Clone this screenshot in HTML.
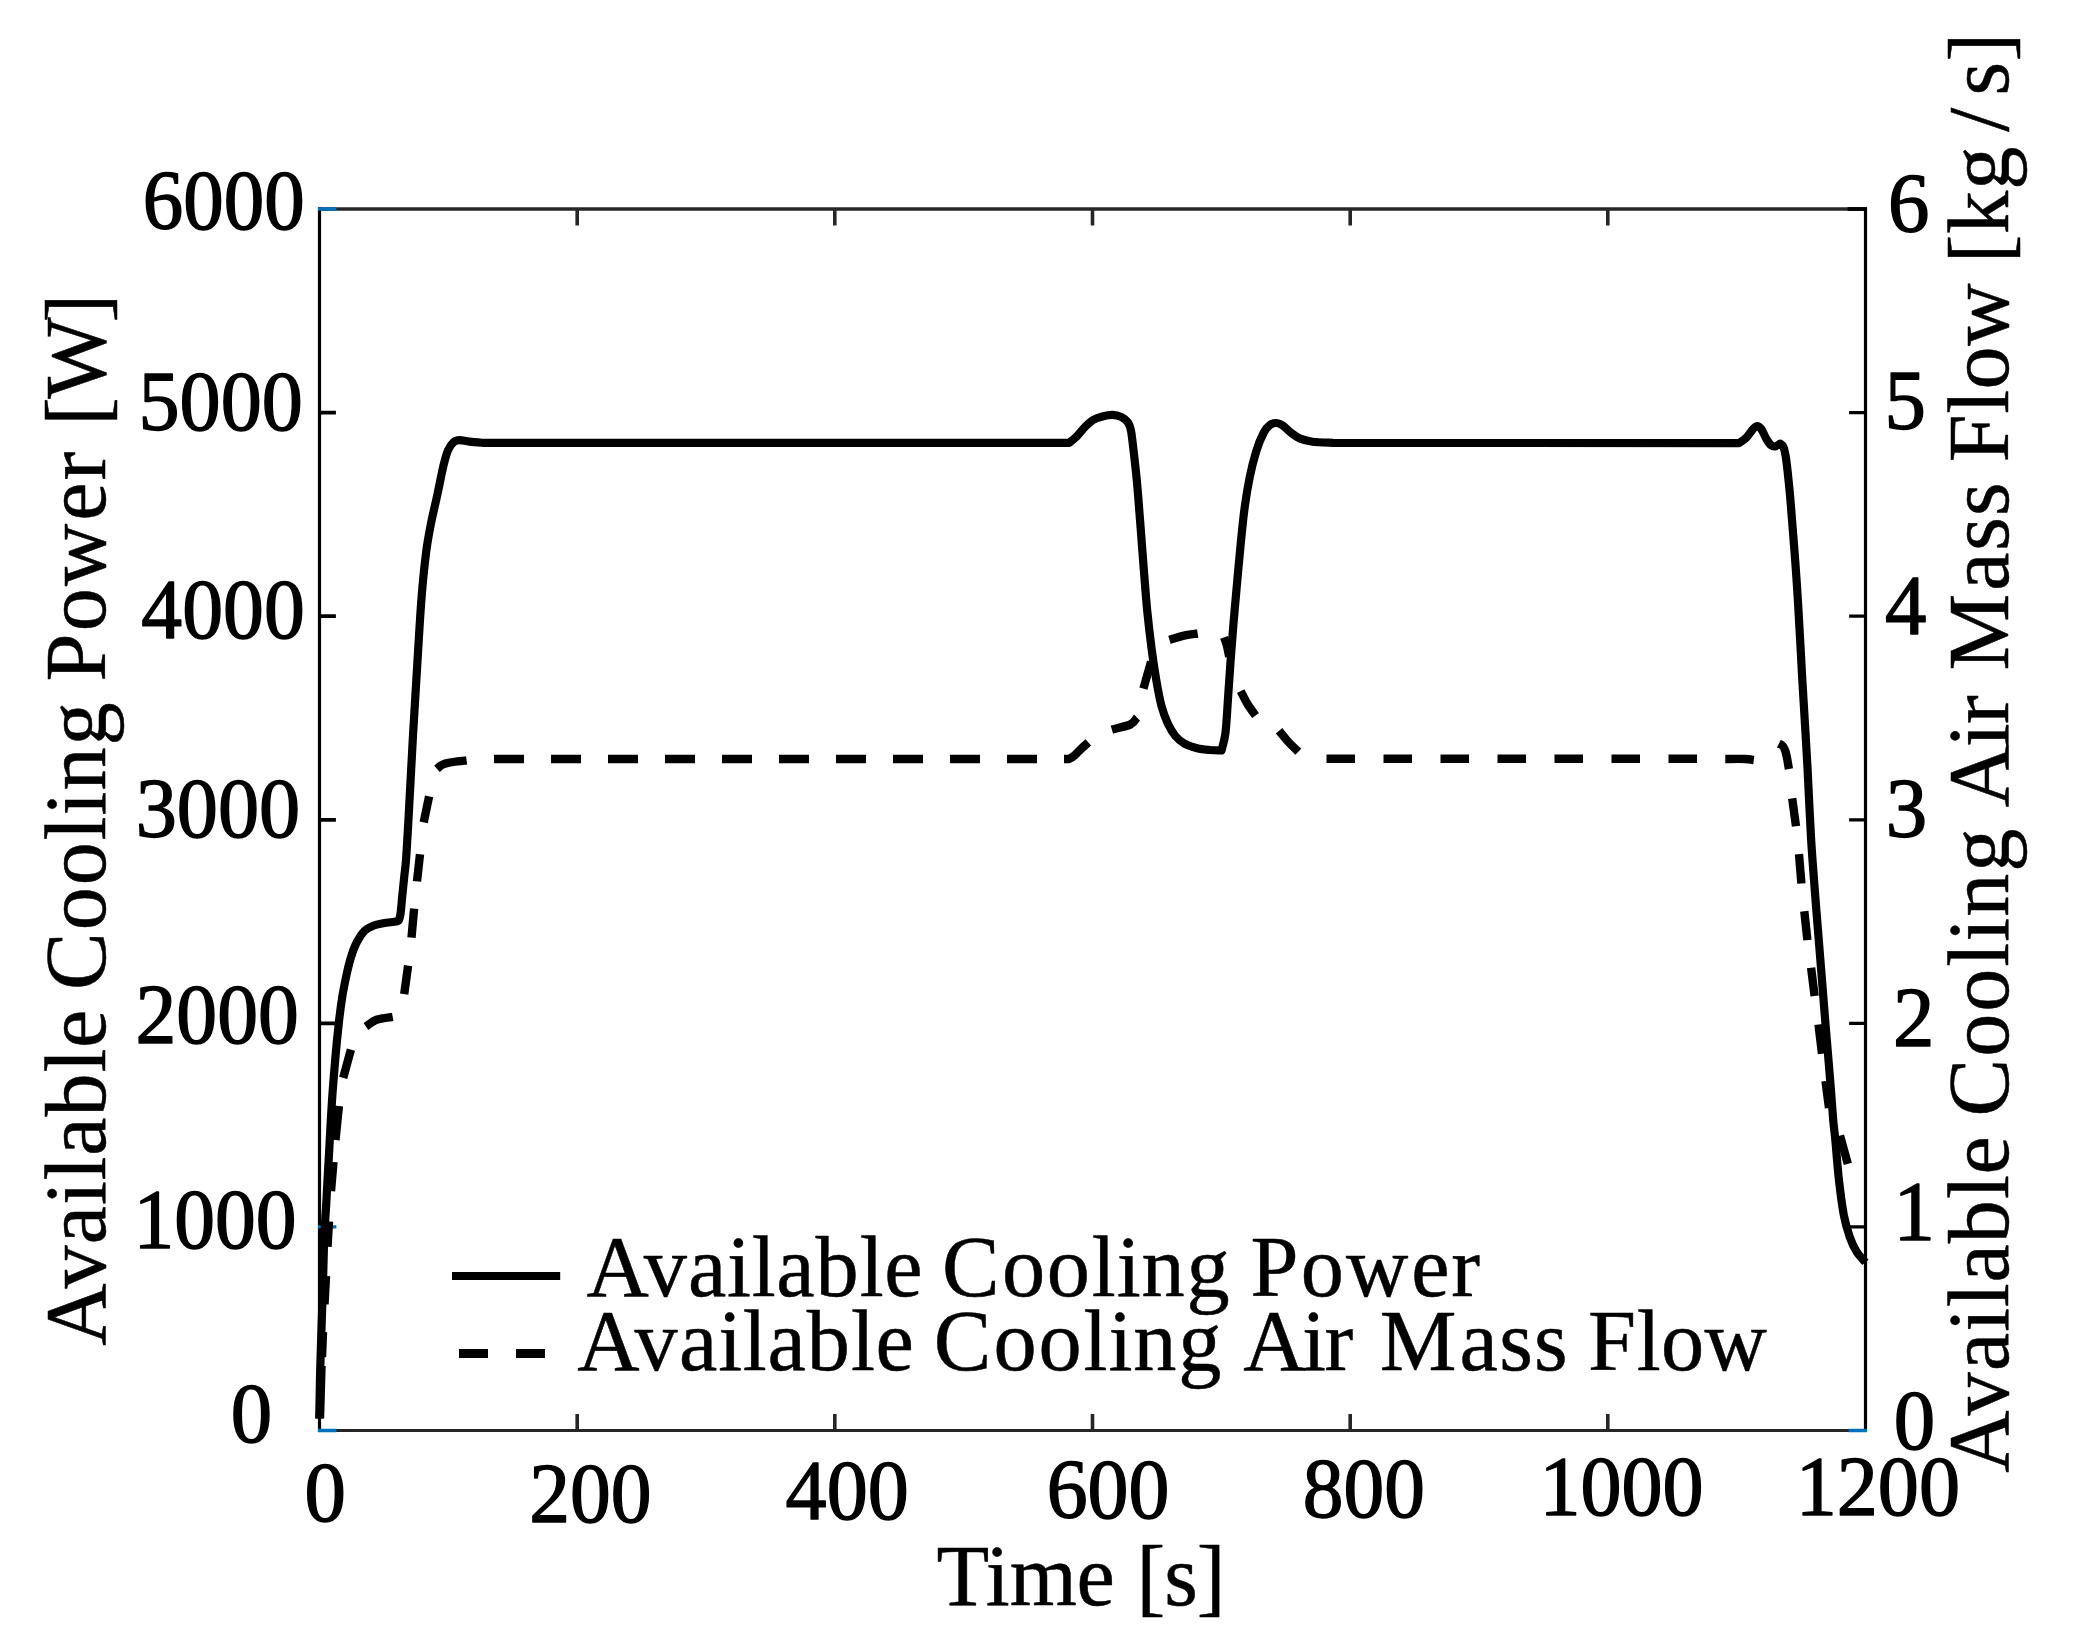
<!DOCTYPE html>
<html lang="en"><head><meta charset="utf-8"><title>Available Cooling Power and Air Mass Flow</title>
<style>html,body{margin:0;padding:0;background:#fff}svg{display:block}</style></head>
<body>
<svg width="2082" height="1640" viewBox="0 0 2082 1640" font-family='"Liberation Serif", "DejaVu Serif", serif' font-size="100" fill="#000">
<rect width="2082" height="1640" fill="#fff"/>
<g fill="none" stroke-linecap="butt">
<path d="M318.0 209.0H1867.0" stroke="#262626" stroke-width="3.6"/>
<path d="M318.0 1430.5H1867.0" stroke="#262626" stroke-width="3.2"/>
<path d="M319.5 207.2V1432.1" stroke="#000" stroke-width="3.2"/>
<path d="M1865.5 207.2V1432.1" stroke="#000" stroke-width="3.2"/>
<path d="M577.2 1430.5v-16.4M577.2 209.0v16.4M834.8 1430.5v-16.4M834.8 209.0v16.4M1092.5 1430.5v-16.4M1092.5 209.0v16.4M1350.2 1430.5v-16.4M1350.2 209.0v16.4M1607.8 1430.5v-16.4M1607.8 209.0v16.4" stroke="#262626" stroke-width="3.6"/>
<path d="M319.5 1023.3h16.4M319.5 819.8h16.4M319.5 616.2h16.4M319.5 412.6h16.4" stroke="#000" stroke-width="3.8"/>
<path d="M1865.5 1226.9h-16.4M1865.5 1023.3h-16.4M1865.5 819.8h-16.4M1865.5 616.2h-16.4M1865.5 412.6h-16.4" stroke="#000" stroke-width="3.2"/>
<path d="M1865.5 209.0h-17.9" stroke="#000" stroke-width="3.8"/>
<path d="M318.0 209.0h18.4M318.0 1226.9h18.4M318.0 1430.5h18.4M1867.0 1430.5h-18.4" stroke="#0072bd" stroke-width="3.4"/>
</g>
<path d="M319.2 1418.5C319.4 1411.0 319.8 1387.7 320.1 1373.7C320.5 1359.7 320.8 1349.2 321.3 1334.6C321.8 1320.0 322.4 1302.2 322.9 1285.9C323.4 1269.7 323.7 1250.1 324.2 1237.1C324.7 1224.1 325.4 1217.6 326.0 1207.8C326.6 1198.0 327.0 1189.0 327.6 1178.5C328.2 1168.0 328.8 1158.2 329.5 1145.0C330.2 1131.8 331.1 1114.0 332.1 1099.2C333.1 1084.4 334.4 1069.2 335.5 1056.4C336.6 1043.6 337.8 1032.2 338.9 1022.3C340.0 1012.3 341.0 1004.7 342.3 996.7C343.6 988.7 345.2 981.0 346.6 974.5C348.0 968.0 349.2 962.8 350.9 957.4C352.6 952.0 354.6 946.4 356.9 942.0C359.2 937.6 361.8 933.6 364.5 930.9C367.2 928.2 370.0 927.1 373.1 925.8C376.2 924.5 379.8 923.9 383.3 923.2C386.9 922.5 391.8 922.2 394.4 921.8C397.0 921.4 398.0 920.8 398.7 920.6C399.0 919.6 399.8 918.5 400.4 914.7C401.0 910.9 401.5 903.9 402.1 897.6C402.7 891.3 403.6 883.4 404.2 877.1C404.8 870.8 405.3 869.4 406.0 860.0C406.7 850.6 407.2 841.5 408.4 820.7C409.6 799.9 411.5 762.3 413.0 735.4C414.5 708.5 416.2 682.0 417.6 659.1C419.0 636.2 420.1 616.0 421.5 598.2C422.9 580.4 424.5 565.1 426.1 552.4C427.7 539.7 429.4 531.6 431.3 522.0C433.2 512.4 435.4 503.9 437.4 494.5C439.4 485.1 441.7 472.9 443.5 465.5C445.3 458.1 446.3 454.2 448.0 450.3C449.7 446.4 451.6 444.0 453.5 442.3C455.4 440.6 457.0 440.3 459.6 440.2C462.2 440.1 465.3 441.2 469.4 441.6C473.5 442.1 481.6 442.7 484.0 442.9L1069.1 442.9C1070.4 441.8 1074.0 439.1 1076.8 436.3C1079.6 433.5 1083.0 428.9 1085.8 426.1C1088.6 423.3 1090.7 421.3 1093.5 419.7C1096.3 418.1 1099.2 417.2 1102.4 416.4C1105.6 415.6 1109.5 414.7 1112.7 414.8C1115.9 414.9 1119.0 415.9 1121.6 417.1C1124.1 418.4 1126.4 420.0 1128.0 422.3C1129.6 424.6 1130.1 426.3 1131.1 431.2C1132.0 436.1 1132.7 443.2 1133.7 451.7C1134.7 460.2 1135.9 470.4 1137.0 482.4C1138.1 494.3 1139.2 509.7 1140.3 523.4C1141.4 537.1 1142.2 549.9 1143.4 564.4C1144.6 578.9 1145.8 596.4 1147.2 610.5C1148.6 624.6 1150.1 637.4 1151.6 648.9C1153.1 660.4 1154.6 670.2 1156.2 679.6C1157.8 689.0 1159.4 697.9 1161.3 705.2C1163.2 712.5 1165.3 718.1 1167.7 723.2C1170.1 728.3 1172.6 732.6 1175.4 736.0C1178.2 739.4 1180.8 741.6 1184.4 743.6C1188.0 745.6 1192.9 747.1 1197.2 748.2C1201.5 749.3 1206.0 749.6 1210.0 750.0C1214.0 750.4 1219.6 750.4 1221.5 750.5C1222.2 747.6 1224.3 741.8 1225.4 733.4C1226.5 725.0 1227.1 712.0 1227.9 700.1C1228.8 688.2 1229.6 674.5 1230.5 661.7C1231.4 648.9 1232.4 636.1 1233.5 623.3C1234.6 610.5 1235.7 598.1 1236.9 584.9C1238.1 571.7 1239.4 556.7 1240.7 543.9C1242.0 531.1 1243.1 519.1 1244.6 508.0C1246.1 496.9 1247.8 486.7 1249.7 477.3C1251.6 467.9 1253.8 459.2 1256.1 451.7C1258.4 444.2 1261.4 437.0 1263.8 432.5C1266.2 428.0 1268.1 426.4 1270.2 424.8C1272.3 423.2 1274.5 422.9 1276.6 423.0C1278.7 423.1 1280.7 424.0 1283.0 425.6C1285.3 427.2 1287.9 430.4 1290.7 432.5C1293.5 434.6 1296.0 436.9 1299.6 438.4C1303.2 439.9 1306.9 440.9 1312.4 441.7C1318.0 442.4 1329.5 442.7 1332.9 442.9L1739.0 443.1C1740.2 442.2 1744.0 440.0 1746.4 437.6C1748.8 435.2 1751.5 430.7 1753.3 428.8C1755.1 426.9 1756.0 426.0 1757.4 426.1C1758.8 426.2 1760.0 427.2 1761.5 429.4C1763.0 431.5 1764.8 436.4 1766.4 439.0C1768.0 441.6 1769.6 444.1 1771.1 445.3C1772.6 446.5 1773.7 446.7 1775.2 446.4C1776.7 446.1 1779.4 444.1 1780.2 443.6C1780.8 444.2 1782.5 444.5 1783.5 447.2C1784.5 449.9 1785.2 452.5 1786.2 459.6C1787.2 466.7 1788.3 477.4 1789.5 489.7C1790.7 502.0 1791.9 519.0 1793.1 533.6C1794.2 548.2 1795.4 562.0 1796.4 577.5C1797.5 593.0 1798.5 610.4 1799.4 626.9C1800.4 643.4 1801.2 660.3 1802.1 676.3C1803.0 692.3 1804.0 707.3 1804.9 722.9C1805.8 738.5 1806.6 750.2 1807.6 769.6C1808.6 789.0 1809.9 819.3 1811.1 839.0C1812.3 858.7 1813.4 871.5 1814.6 887.8C1815.8 904.1 1817.2 920.3 1818.5 936.6C1819.8 952.9 1821.1 969.1 1822.4 985.4C1823.7 1001.6 1825.0 1018.8 1826.3 1034.1C1827.5 1049.4 1828.8 1062.8 1829.9 1077.1C1831.1 1091.4 1832.3 1109.9 1833.2 1120.0C1834.1 1130.1 1834.1 1127.5 1835.1 1137.6C1836.1 1147.7 1837.5 1167.5 1839.0 1180.5C1840.5 1193.5 1842.1 1206.2 1843.9 1215.6C1845.7 1225.0 1847.7 1231.1 1849.8 1237.1C1851.9 1243.1 1854.0 1247.5 1856.6 1251.7C1859.2 1255.9 1863.9 1260.6 1865.4 1262.4" fill="none" stroke="#000" stroke-width="8.2" stroke-linejoin="round" stroke-linecap="butt"/>
<path d="M320.0 1418.5L321.5 1366.0M322.0 1357.0L323.0 1332.0M324.5 1304.4L326.0 1276.0M327.5 1246.8L329.0 1221.5M331.0 1191.2L333.5 1162.0M335.5 1140.0L338.9 1106.0M343.2 1077.8L350.9 1049.6M365.9 1026.6C367.7 1025.4 372.0 1021.3 376.5 1019.7C381.0 1018.1 390.0 1017.3 392.7 1016.8M404.2 994.1L408.1 965.6M411.5 937.7L414.1 908.7M417.0 881.4L420.0 854.3M423.7 822.3L429.1 796.3M437.0 768.9C437.7 768.3 439.2 766.5 441.0 765.5C442.8 764.5 443.7 763.6 448.0 762.8C452.3 761.9 463.5 760.8 466.6 760.4M494.0 759.0L524.0 759.0M551.0 759.0L581.0 759.0M608.0 759.0L638.0 759.0M665.0 759.0L695.0 759.0M722.0 759.0L752.0 759.0M779.0 759.0L809.0 759.0M836.0 759.0L866.0 759.0M893.0 759.0L923.0 759.0M950.0 759.0L980.0 759.0M1007.0 759.0L1037.0 759.0M1064.0 759.0C1064.9 759.0 1067.8 759.3 1069.5 758.7C1071.2 758.1 1072.6 757.1 1074.5 755.5C1076.4 753.9 1078.7 751.2 1081.0 749.0C1083.3 746.8 1087.1 743.5 1088.3 742.4M1111.9 729.6C1115.0 728.7 1126.4 726.4 1130.6 724.4C1134.8 722.4 1135.9 718.6 1137.0 717.5M1143.4 688.6L1151.1 661.7M1169.5 639.9C1171.8 639.2 1178.3 636.9 1183.0 635.8C1187.7 634.7 1195.2 633.9 1197.7 633.5M1224.1 637.4C1224.6 638.8 1226.2 642.8 1227.0 646.0C1227.8 649.2 1228.8 654.8 1229.2 656.6M1240.7 691.1C1241.8 693.2 1245.0 699.9 1247.5 704.0C1250.0 708.1 1254.2 713.6 1255.6 715.5M1279.1 730.8C1280.6 732.6 1284.8 738.0 1288.0 741.5C1291.2 745.0 1296.6 750.1 1298.3 751.8M1326.5 758.8L1355.0 758.8M1383.5 758.8L1412.0 758.8M1440.5 758.8L1469.0 758.8M1497.5 758.8L1526.0 758.8M1554.5 758.8L1583.0 758.8M1611.5 758.8L1640.0 758.8M1668.5 758.8L1697.0 758.8M1725.3 759.0C1728.6 759.0 1740.2 758.8 1745.0 759.0C1749.8 759.2 1752.3 759.8 1753.8 760.0M1778.8 743.8C1779.4 744.1 1781.4 744.5 1782.5 745.6C1783.6 746.7 1784.4 748.3 1785.2 750.5C1786.0 752.7 1786.6 755.9 1787.2 759.0C1787.8 762.1 1788.6 767.3 1788.9 769.0M1792.2 798.4L1796.0 826.3M1799.0 854.2L1801.4 883.5M1804.3 911.2L1807.4 940.1M1811.1 967.8L1814.6 996.1M1818.5 1024.4L1822.0 1053.7M1825.5 1081.0L1829.0 1108.0M1840.0 1135.6L1847.8 1163.9" fill="none" stroke="#000" stroke-width="8.4" stroke-linejoin="round" stroke-linecap="butt"/>
<path d="M452 1276H560.2" stroke="#000" stroke-width="8" fill="none"/>
<path d="M459 1353.5h29M516 1353.5h29" stroke="#000" stroke-width="8.8" fill="none"/>
<g stroke="#000" stroke-width="1.4" stroke-linejoin="round">
<text x="142.77" y="229.37" font-size="84.6" textLength="161.96" lengthAdjust="spacingAndGlyphs">6000</text>
<text x="138.45" y="429.92" font-size="84.6" textLength="164.42" lengthAdjust="spacingAndGlyphs">5000</text>
<text x="141.32" y="637.92" font-size="84.6" textLength="163.43" lengthAdjust="spacingAndGlyphs">4000</text>
<text x="135.64" y="836.97" font-size="84.6" textLength="164.53" lengthAdjust="spacingAndGlyphs">3000</text>
<text x="135.55" y="1042.62" font-size="84.6" textLength="163.30" lengthAdjust="spacingAndGlyphs">2000</text>
<text x="133.53" y="1248.37" font-size="84.6" textLength="163.01" lengthAdjust="spacingAndGlyphs">1000</text>
<text x="230.82" y="1442.12" font-size="84.6" textLength="41.45" lengthAdjust="spacingAndGlyphs">0</text>
<text x="1888.03" y="232.12" font-size="84.6" textLength="41.45" lengthAdjust="spacingAndGlyphs">6</text>
<text x="1884.53" y="428.67" font-size="84.6" textLength="41.45" lengthAdjust="spacingAndGlyphs">5</text>
<text x="1884.97" y="633.82" font-size="84.6" textLength="41.45" lengthAdjust="spacingAndGlyphs">4</text>
<text x="1885.83" y="837.37" font-size="84.6" textLength="41.45" lengthAdjust="spacingAndGlyphs">3</text>
<text x="1893.12" y="1045.87" font-size="84.6" textLength="41.45" lengthAdjust="spacingAndGlyphs">2</text>
<text x="1893.43" y="1240.22" font-size="84.6" textLength="41.45" lengthAdjust="spacingAndGlyphs">1</text>
<text x="1893.67" y="1449.17" font-size="84.6" textLength="41.45" lengthAdjust="spacingAndGlyphs">0</text>
<text x="304.62" y="1521.42" font-size="84.6" textLength="41.45" lengthAdjust="spacingAndGlyphs">0</text>
<text x="529.25" y="1521.62" font-size="84.6" textLength="122.30" lengthAdjust="spacingAndGlyphs">200</text>
<text x="785.62" y="1519.27" font-size="84.6" textLength="123.15" lengthAdjust="spacingAndGlyphs">400</text>
<text x="1046.64" y="1517.77" font-size="84.6" textLength="122.71" lengthAdjust="spacingAndGlyphs">600</text>
<text x="1302.86" y="1516.97" font-size="84.6" textLength="122.09" lengthAdjust="spacingAndGlyphs">800</text>
<text x="1539.39" y="1514.72" font-size="84.6" textLength="164.18" lengthAdjust="spacingAndGlyphs">1000</text>
<text x="1795.68" y="1514.97" font-size="84.6" textLength="164.39" lengthAdjust="spacingAndGlyphs">1200</text>
</g>
<g stroke="#000" stroke-width="0.5" stroke-linejoin="round">
<text x="936.4 985.8 1009.7 1076.4 1114.5 1136.5 1164.3 1196.8" y="1604.85" font-size="86.3">Time [s]</text>
<text x="586.5 643.7 687.9 727.1 751.7 776.3 815.5 859.7 884.2 923.5 942.1 1001.9 1046.8 1091.7 1116.7 1141.6 1186.5 1231.4 1250.4 1300.7 1345.9 1411.2 1451.3" y="1296.05" font-size="86.3">Available Cooling Power</text>
<text x="577.2 634.6 678.9 718.2 742.8 767.4 806.7 850.9 875.5 914.8 933.8 993.6 1038.5 1083.4 1108.4 1133.3 1178.2 1223.1 1243.3 1302.0 1324.5 1351.6 1379.8 1459.5 1499.3 1534.1 1569.0 1588.1 1636.7 1660.9 1704.6" y="1370.15" font-size="86.3">Available Cooling Air Mass Flow</text>
<g transform="translate(104.75 1345.9) rotate(-90)">
<text x="0.2 57.5 101.7 140.9 165.5 190.1 229.3 273.5 298.0 337.3 355.9 415.7 460.6 505.5 530.5 555.4 600.3 645.2 664.4 714.7 759.9 825.2 865.3 895.4 920.2 947.1 1023.4" y="0.00" font-size="86.3">Available Cooling Power [W]</text>
</g>
<g transform="translate(2007.75 1473) rotate(-90)">
<text x="0.2 57.6 101.9 141.2 165.8 190.4 229.7 273.9 298.5 337.8 356.4 416.3 461.3 506.3 531.3 556.3 601.2 646.2 665.8 725.8 748.9 776.6 802.5 882.3 922.2 957.1 992.1 1010.7 1059.3 1083.6 1127.3 1190.5 1209.7 1239.0 1283.3 1341.3 1377.5 1411.4" y="0.00" font-size="86.3">Available Cooling Air Mass Flow [kg/s]</text>
</g>
</g>
</svg>
</body></html>
